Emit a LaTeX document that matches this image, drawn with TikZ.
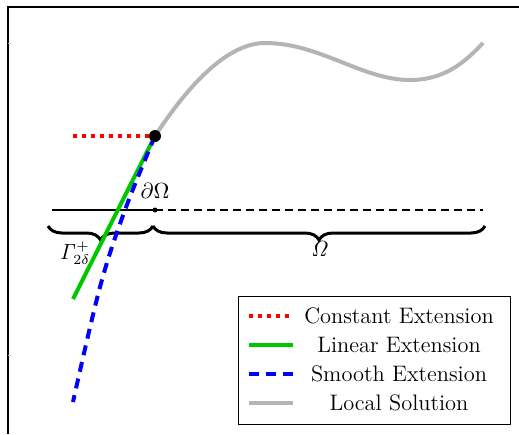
\documentclass[tikz,border=0pt]{standalone}
\usetikzlibrary{decorations.pathreplacing}
\definecolor{solgray}{RGB}{180,180,180}
\definecolor{lingreen}{RGB}{0,200,0}
\begin{document}
\begin{tikzpicture}[x=0.5pt,y=-0.5pt,
  every node/.style={font=\fontsize{11.2}{13}\selectfont},
  constline/.style={red, line width=2pt, dash pattern=on 2pt off 2.5pt},
  linline/.style={lingreen, line width=2pt},
  smoothline/.style={blue, line width=2pt, dash pattern=on 5pt off 3.5pt},
  solline/.style={solgray, line width=2pt},
  bracestyle/.style={decorate, decoration={brace, mirror, amplitude=7pt}, line width=1.5pt},
  legtext/.style={anchor=center}
]
\useasboundingbox (0,0) rectangle (519,434);
% frame
\draw[line width=0.75pt] (8,434) -- (8,7) -- (519,7);
\draw[solgray, line width=0.5pt] (8,43) -- (10,43) (8,355) -- (10,355);

% boundary line
\coordinate (L) at (52,210);
\coordinate (R) at (483,210);
\node[circle, fill, inner sep=0pt, minimum size=2.5pt] (b) at (155,210) {};
\draw[line width=1pt] (L) -- (b.center);
\draw[line width=1pt, dash pattern=on 4pt off 2.5pt] (b.center) -- (R);
\node[anchor=south] (dO) at (155,206) {$\partial\Omega$};

% braces
\coordinate (B1) at (48,226);
\coordinate (B2) at (153,226);
\coordinate (B3) at (485,226);
\draw[bracestyle] (B1) -- (B2);
\draw[bracestyle] (B2) -- (B3);
\node[font=\fontsize{10.5}{12}\selectfont] (G) at (75,253) {$\mathit{\Gamma}^+_{2\delta}$};
\node (O) at (320,249) {$\mathit{\Omega}$};

% extensions
\coordinate (P) at (155,136);
\coordinate (Gend) at (73,299);
\coordinate (Cend) at (73,136);
\draw[linline] (P) -- (Gend);
\draw[smoothline] plot[smooth, tension=0.6] coordinates {(155,136) (125,210) (100,287) (73,402)};
\draw[constline] (Cend) -- (P);
\draw[solline] (P) .. controls (180,98) and (222,43) .. (265,43)
  .. controls (320,43) and (362,80) .. (410,80)
  .. controls (445,80) and (465,62) .. (483,43);
\node[circle, fill, inner sep=0pt, minimum size=6pt] (dot) at (P) {};

% legend
\node[draw, line width=0.6pt, minimum width=136pt, minimum height=64pt, anchor=north west] (leg) at (238,296) {};
\coordinate (a1) at (249,316); \coordinate (a2) at (293,316);
\coordinate (b1) at (249,345); \coordinate (b2) at (293,345);
\coordinate (c1) at (249,374); \coordinate (c2) at (293,374);
\coordinate (d1) at (249,403); \coordinate (d2) at (293,403);
\draw[constline] (a1) -- (a2);
\draw[linline] (b1) -- (b2);
\draw[smoothline] (c1) -- (c2);
\draw[solline] (d1) -- (d2);
\node[legtext] (t1) at (399,316) {Constant Extension};
\node[legtext] (t2) at (399,345) {Linear Extension};
\node[legtext] (t3) at (399,374) {Smooth Extension};
\node[legtext] (t4) at (399,403) {Local Solution};
\end{tikzpicture}
\end{document}
